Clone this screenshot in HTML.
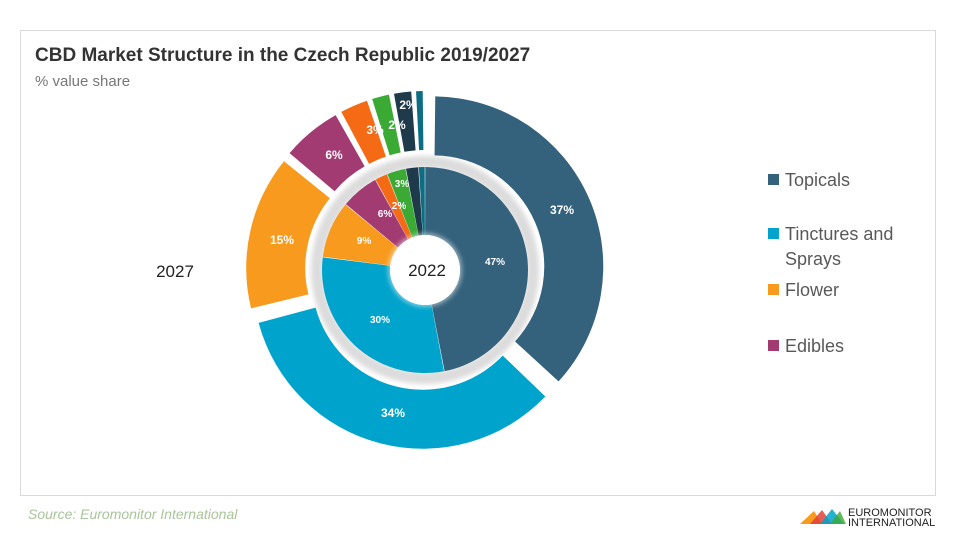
<!DOCTYPE html>
<html><head><meta charset="utf-8"><style>
body{margin:0;width:960px;height:540px;background:#fff;overflow:hidden;font-family:"Liberation Sans",sans-serif;position:relative}
.card{position:absolute;left:20px;top:30px;width:914px;height:464px;border:1px solid #d9d9d9}
.t{position:absolute;left:35px;top:45px;font-size:19px;font-weight:bold;color:#333}
.s{position:absolute;left:35px;top:73px;font-size:15px;color:#777}
.lg{position:absolute;left:768px;font-size:18px;color:#595959;line-height:25px}
.lg i{position:absolute;left:0;top:6px;width:11px;height:11px}
.lg span{position:absolute;left:17px;white-space:nowrap}
.src{position:absolute;left:28px;top:506px;font-size:14px;font-style:italic;color:#a9c49a}
</style></head><body>
<div class="card"></div>
<div class="t">CBD Market Structure in the Czech Republic 2019/2027</div>
<div class="s">% value share</div>
<svg width="960" height="540" style="position:absolute;left:0;top:0">
<defs><filter id="b"><feGaussianBlur stdDeviation="2.5"/></filter></defs>
<circle cx="425" cy="270" r="108" fill="none" stroke="#dcdcdc" stroke-width="12" filter="url(#b)"/>
<g id="segs"></g>
<circle cx="425" cy="270" r="37" fill="#fff" filter="url(#b)" opacity=".5"/>
<circle cx="425" cy="270" r="35" fill="#fff"/>
<g font-family="Liberation Sans,sans-serif" font-weight="bold" fill="#fff" text-anchor="middle">
<text x="562" y="214" font-size="12">37%</text>
<text x="393" y="417" font-size="12">34%</text>
<text x="282" y="244" font-size="12">15%</text>
<text x="334" y="159" font-size="12">6%</text>
<text x="375" y="134" font-size="12">3%</text>
<text x="397" y="129" font-size="12">2%</text>
<text x="408" y="109" font-size="12">2%</text>
<text x="495" y="265" font-size="10">47%</text>
<text x="380" y="323" font-size="10">30%</text>
<text x="364" y="244" font-size="10">9%</text>
<text x="385" y="217" font-size="10">6%</text>
<text x="399" y="209" font-size="10">2%</text>
<text x="402" y="187" font-size="10">3%</text>
</g>
<text x="427" y="276" font-size="17" text-anchor="middle" fill="#222" font-family="Liberation Sans,sans-serif">2022</text>
<text x="175" y="277" font-size="17" text-anchor="middle" fill="#222" font-family="Liberation Sans,sans-serif">2027</text>
<g transform="translate(800,507)">
<path d="M0 17 L14 4 L22 17Z" fill="#f79a1d"/><path d="M10 17 L22 3 L32 17Z" fill="#e0413a" opacity=".85"/><path d="M20 17 L32 2 L44 17Z" fill="#00a3cc" opacity=".85"/><path d="M30 17 L40 4 L46 17Z" fill="#3aaa35" opacity=".8"/>
<text x="48" y="9" font-size="11" fill="#222" font-family="Liberation Sans,sans-serif">EUROMONITOR</text>
<text x="48" y="19" font-size="11" fill="#222" font-family="Liberation Sans,sans-serif">INTERNATIONAL</text>
</g>
</svg>
<div class="lg" style="top:168px"><i style="background:#34627c"></i><span>Topicals</span></div>
<div class="lg" style="top:222px"><i style="background:#00a3cc"></i><span>Tinctures and<br>Sprays</span></div>
<div class="lg" style="top:278px"><i style="background:#f79a1d"></i><span>Flower</span></div>
<div class="lg" style="top:334px"><i style="background:#a23b72"></i><span>Edibles</span></div>
<div class="src">Source: Euromonitor International</div>
<script>
var C=["#34627c","#00a3cc","#f79a1d","#a23b72","#f56a15","#3aaa35","#1f3a4b","#0d6e83"];
var outer=[37,34,15,6,3,2,2,1],inner=[47,30,9,6,2,3,2,1];
function arc(cx,cy,r0,r1,a0,a1){function p(r,a){return [cx+r*Math.sin(a),cy-r*Math.cos(a)]}
var l=(a1-a0)>Math.PI?1:0,A=p(r1,a0),B=p(r1,a1),Cc=p(r0,a1),D=p(r0,a0);
return "M"+A+" A"+r1+" "+r1+" 0 "+l+" 1 "+B+" L"+Cc+" A"+r0+" "+r0+" 0 "+l+" 0 "+D+"Z";}
var g=document.getElementById("segs"),h="";
function ring(v,r0,r1,ex,gap){var s=0,t=v.reduce((a,b)=>a+b,0);v.forEach(function(x,i){var a0=s/t*2*Math.PI,a1=(s+x)/t*2*Math.PI;s+=x;var m=(a0+a1)/2,cx=425+ex*Math.sin(m),cy=270-ex*Math.cos(m);
h+='<path d="'+arc(cx,cy,r0,r1,a0+gap/r1,a1-gap/r1)+'" fill="'+C[i]+'"/>';});}
ring(outer,111,170,9,2);ring(inner,35,103,0,0.3);
g.innerHTML=h;
</script>
</body></html>
